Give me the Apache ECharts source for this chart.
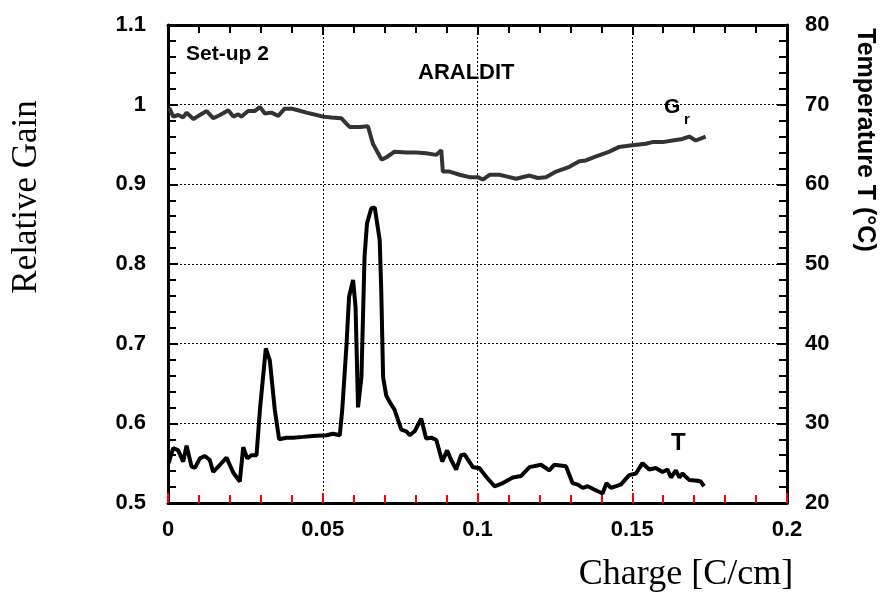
<!DOCTYPE html>
<html>
<head>
<meta charset="utf-8">
<script src="https://cdn.jsdelivr.net/npm/echarts@6/dist/echarts.min.js"></script>
<style>
html,body{margin:0;padding:0;background:#fff;}
#chart{width:882px;height:595px;}
</style>
</head>
<body>
<div id="chart"></div>
<script>
// Relative gain G_r (left axis) vs charge
var grX = [0.0004,0.0017,0.0033,0.0049,0.0060,0.0082,0.0103,0.0125,0.0146,0.0168,0.0195,0.0211,0.0227,0.0237,0.0259,0.0280,0.0297,0.0313,0.0334,0.0356,0.0377,0.0399,0.0420,0.0447,0.0480,0.0501,0.0528,0.0560,0.0577,0.0587,0.0619,0.0646,0.0662,0.0679,0.0690,0.0706,0.0732,0.0770,0.0802,0.0834,0.0867,0.0883,0.0888,0.0910,0.0942,0.0974,0.1001,0.1017,0.1039,0.1071,0.1093,0.1125,0.1168,0.1195,0.1221,0.1254,0.1297,0.1329,0.1350,0.1383,0.1404,0.1426,0.1458,0.1480,0.1500,0.1544,0.1565,0.1598,0.1630,0.1662,0.1684,0.1705,0.1737];
var grY = [0.996,0.985,0.987,0.984,0.990,0.982,0.987,0.992,0.983,0.987,0.993,0.985,0.988,0.985,0.992,0.992,0.997,0.989,0.990,0.986,0.995,0.995,0.993,0.990,0.987,0.985,0.984,0.983,0.976,0.972,0.972,0.973,0.951,0.939,0.931,0.934,0.941,0.940,0.940,0.939,0.937,0.943,0.916,0.916,0.912,0.909,0.909,0.906,0.912,0.912,0.910,0.907,0.911,0.908,0.909,0.916,0.922,0.929,0.930,0.935,0.938,0.941,0.947,0.948,0.949,0.951,0.953,0.953,0.955,0.957,0.960,0.955,0.960];
// Temperature T (right axis, deg C) vs charge
var tX = [0.0002,0.0017,0.0033,0.0049,0.0060,0.0076,0.0087,0.0103,0.0119,0.0135,0.0146,0.0168,0.0189,0.0211,0.0232,0.0243,0.0256,0.0270,0.0286,0.0297,0.0316,0.0329,0.0345,0.0359,0.0383,0.0404,0.0437,0.0469,0.0512,0.0533,0.0555,0.0563,0.0577,0.0585,0.0598,0.0606,0.0614,0.0625,0.0635,0.0643,0.0657,0.0668,0.0684,0.0689,0.0695,0.0705,0.0716,0.0732,0.0754,0.0770,0.0781,0.0797,0.0818,0.0834,0.0851,0.0867,0.0886,0.0902,0.0915,0.0931,0.0947,0.0958,0.0985,0.1006,0.1028,0.1055,0.1082,0.1114,0.1141,0.1168,0.1205,0.1232,0.1248,0.1286,0.1307,0.1324,0.1340,0.1356,0.1377,0.1404,0.1417,0.1431,0.1463,0.1490,0.1512,0.1533,0.1555,0.1576,0.1598,0.1614,0.1625,0.1641,0.1652,0.1662,0.1684,0.1711,0.1721,0.1732];
var tY = [25.0,26.9,26.6,25.2,27.2,24.6,24.4,25.6,25.9,25.4,23.9,24.8,25.7,23.8,22.7,27.0,25.6,26.0,26.0,31.7,39.4,37.9,31.7,28.0,28.2,28.2,28.3,28.4,28.5,28.7,28.5,31.7,40.0,45.9,48.0,44.6,32.0,35.8,50.9,55.1,57.0,57.1,53.0,46.7,35.8,33.5,32.7,31.7,29.2,29.0,28.5,29.0,30.6,28.1,28.2,27.9,25.2,26.6,25.4,24.2,26.0,26.1,24.5,24.4,23.3,22.1,22.5,23.2,23.4,24.5,24.8,24.1,24.8,24.6,22.5,22.3,21.9,22.1,21.7,21.2,22.5,21.9,22.3,23.5,23.7,25.0,24.2,24.4,23.9,24.2,23.2,24.1,23.2,23.7,22.9,22.8,22.7,22.1];
// tick labels
var xTicks = ['0','0.05','0.1','0.15','0.2'];
var gainTicks = ['0.5','0.6','0.7','0.8','0.9','1','1.1'];
var tempTicks = ['20','30','40','50','60','70','80'];

var grData = grX.map(function(x,i){return [x,grY[i]];});
var tData = tX.map(function(x,i){return [x,tY[i]];});

var labelFont = {fontFamily:'Liberation Sans, Arial, sans-serif', fontWeight:'bold', fontSize:22, color:'#000'};

function axisStyle(col, extra){
  return Object.assign({
    axisLine:{show:true, onZero:false, lineStyle:{color:'#000', width:3}},
    axisTick:{show:true, inside:true, length:10, lineStyle:{color:col, width:2}},
    minorTick:{show:true, splitNumber:5, length:8, lineStyle:{color:col, width:2}}
  }, extra);
}
var dotted = {show:true, lineStyle:{color:'#000', width:1, type:[2,2]}};

var chart = echarts.init(document.getElementById('chart'));
chart.setOption({
  animation:false,
  grid:{left:168, right:95, top:25, bottom:92},
  xAxis:[
    axisStyle('red', {type:'value', min:0, max:0.2, interval:0.05, splitLine:dotted,
      axisLabel:Object.assign({margin:16, formatter:function(v){return xTicks[Math.round(v/0.05)];}}, labelFont)}),
    axisStyle('#010101', {type:'value', position:'top', min:0, max:0.2, interval:0.05,
      splitLine:{show:false}, axisLabel:{show:false}})
  ],
  yAxis:[
    axisStyle('#000', {type:'value', position:'left', min:0.5, max:1.1, interval:0.1, splitLine:dotted,
      axisLabel:Object.assign({margin:22, formatter:function(v){return gainTicks[Math.round((v-0.5)/0.1)];}}, labelFont)}),
    axisStyle('rgba(0,0,0,1)', {type:'value', position:'right', min:20, max:80, interval:10, splitLine:{show:false},
      axisLabel:Object.assign({margin:18, formatter:function(v){return tempTicks[Math.round((v-20)/10)];}}, labelFont)})
  ],
  series:[{
    name:'Gr', type:'line', xAxisIndex:0, yAxisIndex:0, data:grData,
    showSymbol:false, smooth:false, lineStyle:{color:'#333', width:4}, z:3
  },{
    name:'T', type:'line', xAxisIndex:0, yAxisIndex:1, data:tData,
    showSymbol:false, smooth:false, lineStyle:{color:'#000', width:4}, z:4
  }],
  graphic:[
    {type:'text', left:186, top:44, style:{text:'Set-up 2', font:'bold 21px "Liberation Sans", Arial, sans-serif', fill:'#000'}},
    {type:'text', left:418, top:62, style:{text:'ARALDIT', font:'bold 22px "Liberation Sans", Arial, sans-serif', fill:'#000'}},
    {type:'text', left:664, top:97, style:{text:'G', font:'bold 21px "Liberation Sans", Arial, sans-serif', fill:'#000'}, z:5},
    {type:'text', left:684, top:112, style:{text:'r', font:'bold 15px "Liberation Sans", Arial, sans-serif', fill:'#000'}, z:5},
    {type:'text', left:671, top:431, style:{text:'T', font:'bold 24px "Liberation Sans", Arial, sans-serif', fill:'#000'}},
    {type:'text', x:27, y:197, rotation:Math.PI/2, style:{text:'Relative Gain', font:'35px "Liberation Serif", "Times New Roman", serif', fill:'#000', align:'center', verticalAlign:'middle'}},
    {type:'text', x:686, y:575, style:{text:'Charge [C/cm]', font:'36px "Liberation Serif", "Times New Roman", serif', fill:'#000', align:'center', verticalAlign:'middle'}},
    {type:'text', x:865, y:140, rotation:-Math.PI/2, style:{text:'Temperature T (°C)', font:'bold 25px "Liberation Sans", Arial, sans-serif', fill:'#000', align:'center', verticalAlign:'middle'}}
  ]
});
</script>
</body>
</html>
